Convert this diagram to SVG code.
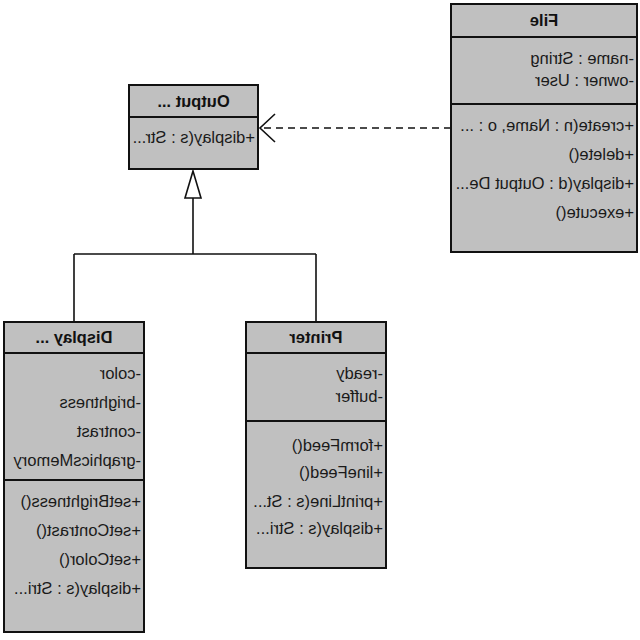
<svg xmlns="http://www.w3.org/2000/svg" width="640" height="640" viewBox="0 0 640 640">
<style>
.box{fill:#c0c0c0;stroke:#111;stroke-width:2}
.div{stroke:#111;stroke-width:2}
.t{font-family:"Liberation Sans",Arial,sans-serif;font-size:16.5px;fill:#1a1a1a}
.h{font-family:"Liberation Sans",Arial,sans-serif;font-size:16.5px;font-weight:bold;fill:#111;text-anchor:middle}
.c{fill:none;stroke:#111;stroke-width:1.6}
</style>
<rect width="640" height="640" fill="#fff"/>
<g transform="matrix(-1 0 0 1 640 0)">
<g id="connectors">
<path class="c" d="M189 128 L380 128" stroke-dasharray="7 5"/>
<path class="c" d="M365 114 L380 128 L365 142"/>
<path class="c" d="M447 198 L447 254 M324 254 L566 254 M324 254 L324 322 M566 254 L566 322"/>
<path d="M447 171 L455 198 L439 198 Z" fill="#fff" stroke="#111" stroke-width="1.6"/>
</g>
<g id="file">
<rect class="box" x="3" y="4" width="186" height="248"/>
<line class="div" x1="3" y1="37" x2="189" y2="37"/>
<line class="div" x1="3" y1="104" x2="189" y2="104"/>
<text class="h" x="96" y="26">File</text>
<text class="t" x="6" y="64">-name : String</text>
<text class="t" x="6" y="86">-owner : User</text>
<text class="t" x="6" y="131">+create(n : Name, o : ...</text>
<text class="t" x="6" y="160">+delete()</text>
<text class="t" x="6" y="189">+display(d : Output De...</text>
<text class="t" x="6" y="218">+execute()</text>
</g>
<g id="output">
<rect class="box" x="382" y="85" width="129" height="84"/>
<line class="div" x1="382" y1="117" x2="511" y2="117"/>
<text class="h" x="446.5" y="107">Output ...</text>
<text class="t" x="385" y="143">+display(s : Str...</text>
</g>
<g id="display">
<rect class="box" x="496" y="322" width="140" height="310"/>
<line class="div" x1="496" y1="353" x2="636" y2="353"/>
<line class="div" x1="496" y1="480" x2="636" y2="480"/>
<text class="h" x="566" y="343">Display ...</text>
<text class="t" x="499" y="379">-color</text>
<text class="t" x="499" y="408">-brightness</text>
<text class="t" x="499" y="437">-contrast</text>
<text class="t" x="499" y="466">-graphicsMemory</text>
<text class="t" x="499" y="507">+setBrightness()</text>
<text class="t" x="499" y="536">+setContrast()</text>
<text class="t" x="499" y="565">+setColor()</text>
<text class="t" x="499" y="594">+display(s : Stri...</text>
</g>
<g id="printer">
<rect class="box" x="254" y="322" width="140" height="246"/>
<line class="div" x1="254" y1="353" x2="394" y2="353"/>
<line class="div" x1="254" y1="421" x2="394" y2="421"/>
<text class="h" x="324" y="343">Printer</text>
<text class="t" x="257" y="379">-ready</text>
<text class="t" x="257" y="402">-buffer</text>
<text class="t" x="257" y="451">+formFeed()</text>
<text class="t" x="257" y="478">+lineFeed()</text>
<text class="t" x="257" y="507">+printLine(s : St...</text>
<text class="t" x="257" y="534">+display(s : Stri...</text>
</g>
</g>
</svg>
